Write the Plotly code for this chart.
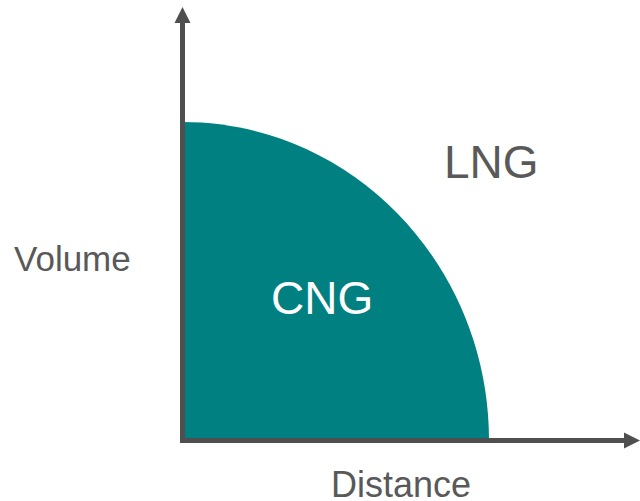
import plotly.graph_objects as go

# --- data (pixel-space layout of the conceptual diagram) ---
origin = [182.5, 440.5]          # where the two axes meet
axis_ends = [640, 7]             # tip of x-axis arrow (x), tip of y-axis arrow (y)
cng_reach = [306.5, 318.5]       # CNG region extent along distance and volume
labels = ["Volume", "Distance", "LNG", "CNG"]
label_x = [72, 401, 491.5, 322]
label_y = [258, 484, 162, 298]
label_size = [35, 36, 46, 46]
label_color = ["#595959", "#595959", "#595959", "#FFFFFF"]

TEAL = "#008080"
AXIS = "#4F4F4F"

W, H = 640, 501
fig = go.Figure()

ox, oy = origin
rx, ry = cng_reach
k = 0.5523
# quarter ellipse via cubic bezier
path = (f"M {ox},{oy} L {ox},{oy-ry} "
        f"C {ox+k*rx},{oy-ry} {ox+rx},{oy-k*ry} {ox+rx},{oy} Z")
shapes = [dict(type="path", path=path, fillcolor=TEAL, line=dict(width=0), layer="below")]

# axes lines
head = 16
shapes.append(dict(type="line", x0=ox, y0=oy + 2.5, x1=ox, y1=axis_ends[1] + head,
                   line=dict(color=AXIS, width=5)))
shapes.append(dict(type="line", x0=ox - 2.5, y0=oy, x1=axis_ends[0] - head, y1=oy,
                   line=dict(color=AXIS, width=5)))
# arrow heads
tx = ox
ty = axis_ends[1]
shapes.append(dict(type="path", path=f"M {tx},{ty} L {tx-8},{ty+head} L {tx+8},{ty+head} Z",
                   fillcolor=AXIS, line=dict(width=0)))
hx = axis_ends[0]
shapes.append(dict(type="path", path=f"M {hx},{oy} L {hx-head},{oy-8} L {hx-head},{oy+8} Z",
                   fillcolor=AXIS, line=dict(width=0)))

annotations = []
for t, x, y, s, c in zip(labels, label_x, label_y, label_size, label_color):
    annotations.append(dict(text=t, x=x, y=y, xref="x", yref="y", showarrow=False,
                            xanchor="center", yanchor="middle", borderpad=0,
                            font=dict(family="Liberation Sans, Arial", size=s, color=c)))

fig.update_layout(
    width=W, height=H,
    margin=dict(l=0, r=0, t=0, b=0),
    paper_bgcolor="white", plot_bgcolor="white",
    xaxis=dict(range=[0, W], visible=False, fixedrange=True),
    yaxis=dict(range=[H, 0], visible=False, fixedrange=True),
    shapes=shapes, annotations=annotations, showlegend=False,
)
fig.write_html(
    "out.html",
    config={"displayModeBar": False},
    post_script="document.body.style.margin='0';document.body.style.overflow='hidden';",
)
